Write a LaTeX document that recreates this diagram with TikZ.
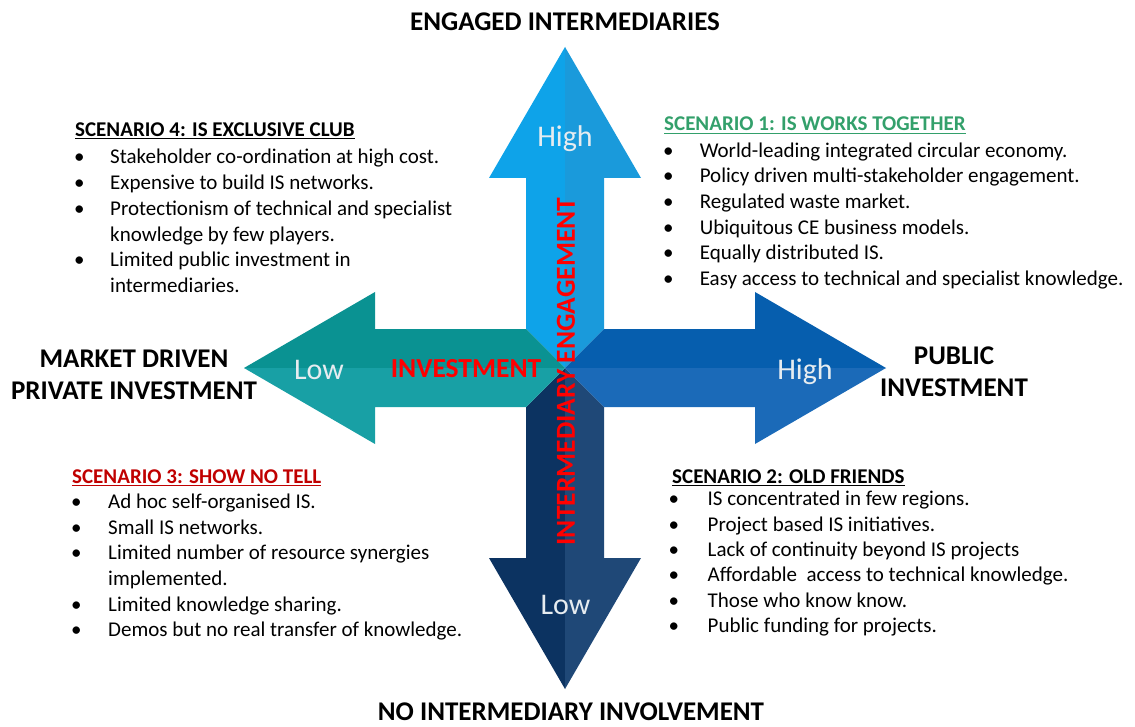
\documentclass[tikz,border=0pt]{standalone}
\usepackage{fontspec}
\setmainfont{Carlito}
\definecolor{upL}{HTML}{0EA3E9}
\definecolor{upR}{HTML}{1A9ADB}
\definecolor{dnL}{HTML}{0C3361}
\definecolor{dnR}{HTML}{1F4877}
\definecolor{lfT}{HTML}{0A9292}
\definecolor{lfB}{HTML}{18A0A5}
\definecolor{rtT}{HTML}{065EAE}
\definecolor{rtB}{HTML}{1B6AB8}
\definecolor{grn}{HTML}{33A06B}
\definecolor{dred}{HTML}{C00000}
\definecolor{lvlc}{HTML}{E6ECF0}
\newcommand{\myul}[1]{\setbox0\hbox{#1}\rlap{\rule[-3pt]{\wd0}{1.3pt}}\box0}
\tikzset{
 hdr/.style={anchor=base west, inner sep=0, font=\fontsize{21}{24}\selectfont\bfseries},
 lst/.style={anchor=base west, inner sep=0, font=\fontsize{21}{25.7}\selectfont},
 axislbl/.style={anchor=base, inner sep=0, font=\fontsize{27}{32}\selectfont\bfseries},
 redlbl/.style={inner sep=0, text=red, font=\fontsize{27.5}{32}\selectfont\bfseries},
 lvl/.style={anchor=base, inner sep=0, text=lvlc, font=\fontsize{30}{36}\selectfont},
}
\begin{document}
\begin{tikzpicture}[x=1pt,y=-1pt]
\useasboundingbox (0,0) rectangle (1135,727);
\coordinate (C) at (565,368);
% up arrow
\fill[upL] (C) -- (526,329) -- (526,178) -- (489,178) -- (565,47) -- cycle;
\fill[upR] (C) -- (604,329) -- (604,178) -- (641,178) -- (565,47) -- cycle;
% down arrow
\fill[dnL] (C) -- (526,407) -- (526,558) -- (489,558) -- (565,689) -- cycle;
\fill[dnR] (C) -- (604,407) -- (604,558) -- (641,558) -- (565,689) -- cycle;
% left arrow
\fill[lfT] (C) -- (526,329) -- (375,329) -- (375,292) -- (244,368) -- cycle;
\fill[lfB] (C) -- (526,407) -- (375,407) -- (375,444) -- (244,368) -- cycle;
% right arrow
\fill[rtT] (C) -- (604,329) -- (755,329) -- (755,292) -- (886,368) -- cycle;
\fill[rtB] (C) -- (604,407) -- (755,407) -- (755,444) -- (886,368) -- cycle;

% level labels
\node[lvl] (hiup) at (565,146.5) {High};
\node[lvl] (lolf) at (319,379) {Low};
\node[lvl] (hirt) at (805,379) {High};
\node[lvl] (lodn) at (565.5,614) {Low};

% red axis names
\node[redlbl, anchor=base] (inv) at (466,377) {INVESTMENT};
\node[redlbl, rotate=90] (eng) at (566,371.5) {INTERMEDIARY ENGAGEMENT};

% axis ends
\node[axislbl] (top) at (565,30.5) {ENGAGED INTERMEDIARIES};
\node[axislbl] (bot) at (571,720.5) {NO INTERMEDIARY INVOLVEMENT};
\node[axislbl] (lfa) at (134,367) {MARKET DRIVEN};
\node[axislbl] (lfb) at (134,399) {PRIVATE INVESTMENT};
\node[axislbl] (rta) at (954,364) {PUBLIC};
\node[axislbl] (rtb) at (954,396) {INVESTMENT};

% scenario 4
\node[hdr] (s4h) at (75,136.4) {\myul{SCENARIO 4: IS EXCLUSIVE CLUB}};
\node[lst] (s4l) at (74,164) {\begin{tabular}[t]{@{}p{36pt}@{}l@{}}
• & Stakeholder co-ordination at high cost.\\
• & Expensive to build IS networks.\\
• & Protectionism of technical and specialist\\
  & knowledge by few players.\\
• & Limited public investment in\\
  & intermediaries.
\end{tabular}};

% scenario 1
\node[hdr, text=grn] (s1h) at (664,130.9) {\myul{SCENARIO 1: IS WORKS TOGETHER}};
\node[lst] (s1l) at (663,157.2) {\begin{tabular}[t]{@{}p{36.6pt}@{}l@{}}
• & World-leading integrated circular economy.\\
• & Policy driven multi-stakeholder engagement.\\
• & Regulated waste market.\\
• & Ubiquitous CE business models.\\
• & Equally distributed IS.\\
• & Easy access to technical and specialist knowledge.
\end{tabular}};

% scenario 3
\node[hdr, text=dred] (s3h) at (72,483) {\myul{SCENARIO 3: SHOW NO TELL}};
\node[lst] (s3l) at (71,508.3) {\begin{tabular}[t]{@{}p{37pt}@{}l@{}}
• & Ad hoc self-organised IS.\\
• & Small IS networks.\\
• & Limited number of resource synergies\\
  & implemented.\\
• & Limited knowledge sharing.\\
• & Demos but no real transfer of knowledge.
\end{tabular}};

% scenario 2
\node[hdr] (s2h) at (672,483.3) {\myul{SCENARIO 2: OLD FRIENDS}};
\node[lst] (s2l) at (668.5,505.7) {\fontsize{21}{25.4}\selectfont\begin{tabular}[t]{@{}p{39pt}@{}l@{}}
• & IS concentrated in few regions.\\
• & Project based IS initiatives.\\
• & Lack of continuity beyond IS projects\\
• & Affordable\ \ access to technical knowledge.\\
• & Those who know know.\\
• & Public funding for projects.
\end{tabular}};
\end{tikzpicture}
\end{document}
